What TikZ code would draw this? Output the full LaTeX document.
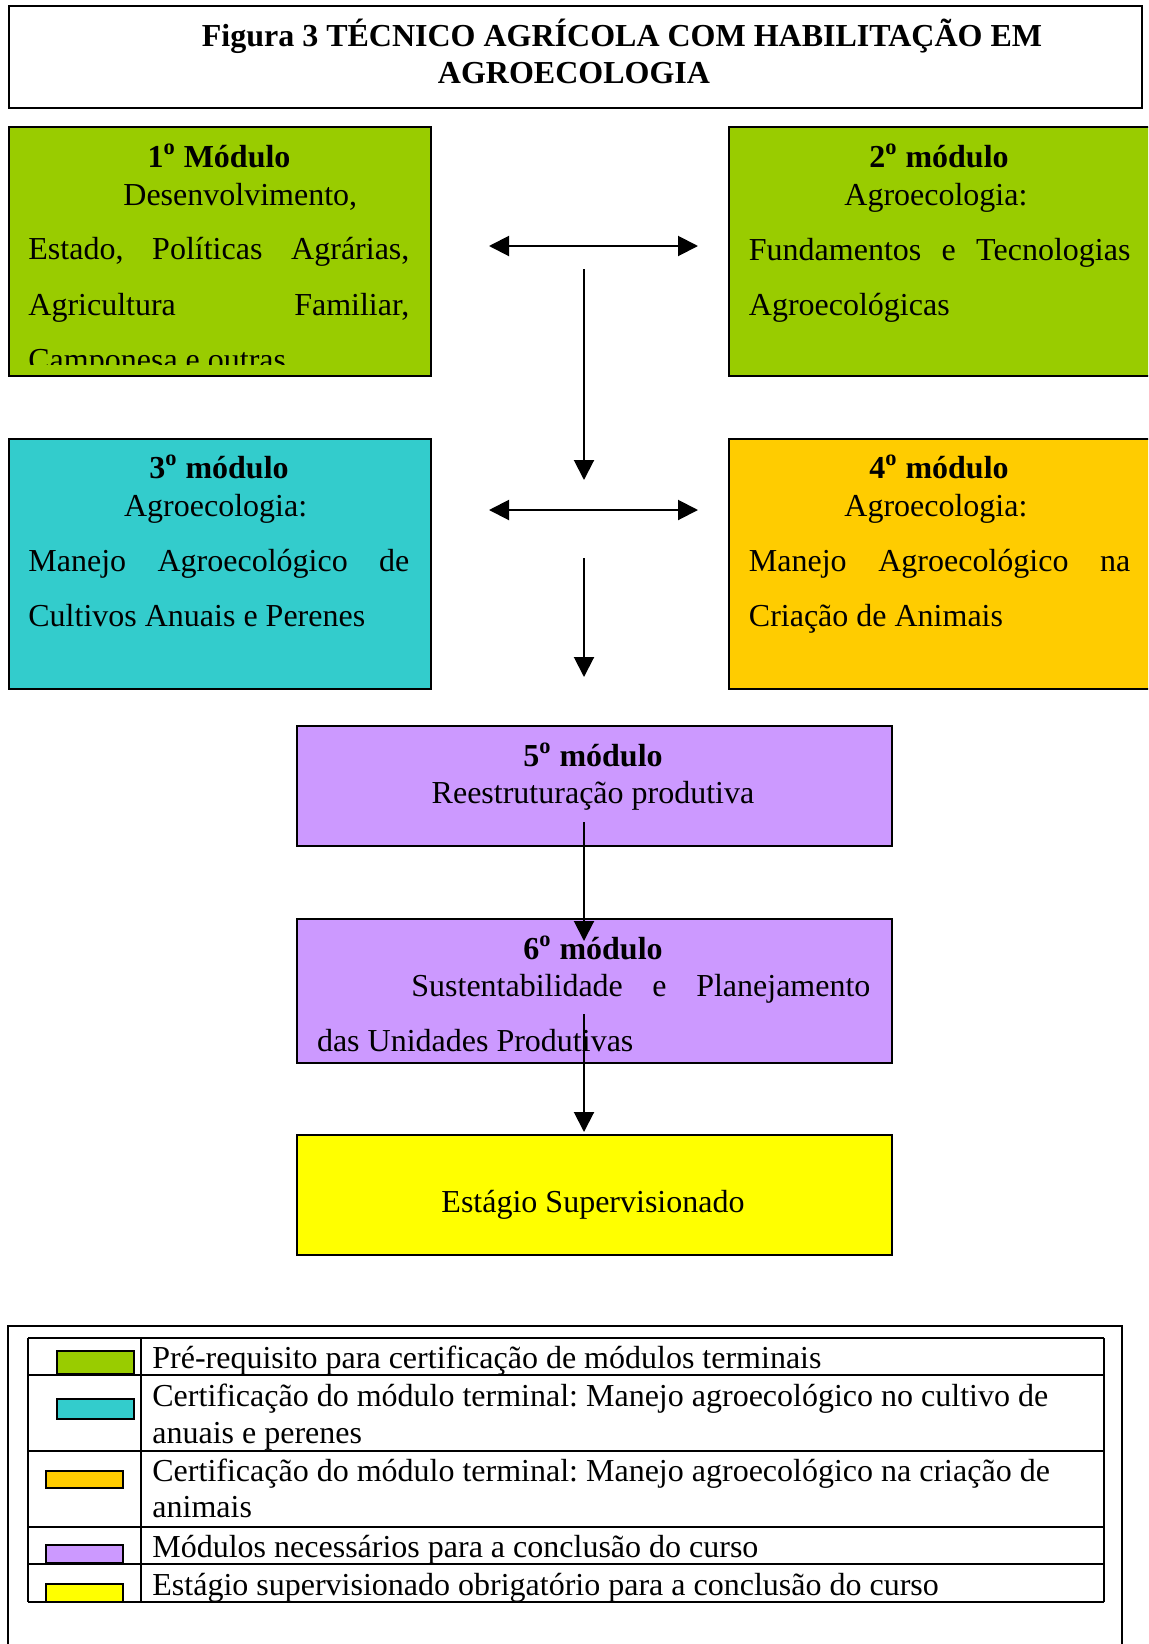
\documentclass[tikz,border=0pt]{standalone}
\usepackage{fontspec}
\setmainfont{Liberation Serif}
\usetikzlibrary{positioning,arrows.meta}
\frenchspacing
\definecolor{modgreen}{HTML}{99CC00}
\definecolor{modcyan}{HTML}{33CCCC}
\definecolor{modorange}{HTML}{FFCC00}
\definecolor{modpurple}{HTML}{CC99FF}
\definecolor{modyellow}{HTML}{FFFF00}
\tikzset{
  modbox/.style={draw, line width=1pt, anchor=north west, inner sep=0pt},
  txt/.style={inner sep=0pt, anchor=base west, font=\fontsize{16}{18.4}\selectfont},
  head/.style={inner sep=0pt, anchor=base, font=\fontsize{16}{18.4}\selectfont\bfseries},
  fwd/.style={-{Triangle[length=10pt, width=10pt]}, line width=1pt},
  twoway/.style={{Triangle[length=10pt, width=10pt]}-{Triangle[length=10pt, width=10pt]}, line width=1pt},
  swatch/.style={draw, line width=0.8pt},
  greenmod/.style={fill=modgreen},
  cyanmod/.style={fill=modcyan},
  orangemod/.style={fill=modorange},
  purplemod/.style={fill=modpurple},
  yellowmod/.style={fill=modyellow},
}

\begin{document}
\begin{tikzpicture}[x=0.5pt, y=-0.5pt]
  \useasboundingbox (0,0) rectangle (1148,1644);
  \clip (0,0) rectangle (1148,1644);

  % title
  \node[modbox, minimum width=566.5pt, minimum height=51pt] (title) at (8,5) {};
  \node[head] (title1) at (622,46) {Figura 3 TÉCNICO AGRÍCOLA COM HABILITAÇÃO EM};
  \node[head] (title2) at (574,83) {AGROECOLOGIA};

  % modules 1 and 2
  \node[modbox, greenmod, minimum width=211pt, minimum height=124.5pt] (mod1) at (8,126) {};
  \node[head] (mod1h) at (219,167) {1\textsuperscript{o} Módulo};
  \node[txt] (mod1a) at (123,205) {Desenvolvimento,};
  \node[txt] (mod1b) at (28,259.5) {\makebox[190.5pt][s]{Estado, Políticas Agrárias,}};
  \node[txt] (mod1c) at (28,315) {\makebox[190.5pt][s]{Agricultura Familiar,}};
  \begin{scope}
    \clip (8,126) rectangle (430,364);
    \node[txt] (mod1d) at (28,370) {Camponesa e outras};
  \end{scope}

  \node[modbox, greenmod, minimum width=215pt, minimum height=124.5pt] (mod2) at (728,126) {};
  \node[head] (mod2h) at (939,167) {2\textsuperscript{o} módulo};
  \node[txt] (mod2a) at (844,205) {Agroecologia:};
  \node[txt] (mod2b) at (748.5,260) {\makebox[190.75pt][s]{Fundamentos e Tecnologias}};
  \node[txt] (mod2c) at (748.5,315) {Agroecológicas};

  % modules 3 and 4
  \node[modbox, cyanmod, minimum width=211pt, minimum height=125pt] (mod3) at (8,438) {};
  \node[head] (mod3h) at (219,478) {3\textsuperscript{o} módulo};
  \node[txt] (mod3a) at (123.7,516) {Agroecologia:};
  \node[txt] (mod3b) at (28,571) {\makebox[190.5pt][s]{Manejo Agroecológico de}};
  \node[txt] (mod3c) at (28,626) {Cultivos Anuais e Perenes};

  \node[modbox, orangemod, minimum width=215pt, minimum height=125pt] (mod4) at (728,438) {};
  \node[head] (mod4h) at (939,478) {4\textsuperscript{o} módulo};
  \node[txt] (mod4a) at (844,516) {Agroecologia:};
  \node[txt] (mod4b) at (748.5,571) {\makebox[190.75pt][s]{Manejo Agroecológico na}};
  \node[txt] (mod4c) at (748.5,626) {Criação de Animais};

  % modules 5, 6 and internship
  \node[modbox, purplemod, minimum width=297.5pt, minimum height=60pt] (mod5) at (296,725) {};
  \node[head] (mod5h) at (593,766) {5\textsuperscript{o} módulo};
  \node[head, font=\fontsize{16}{18.4}\selectfont] (mod5a) at (593,803.5) {Reestruturação produtiva};

  \node[modbox, purplemod, minimum width=297.5pt, minimum height=72pt] (mod6) at (296,918) {};
  \node[head] (mod6h) at (593,959) {6\textsuperscript{o} módulo};
  \node[txt] (mod6a) at (411,996.5) {\makebox[229.5pt][s]{Sustentabilidade e Planejamento}};
  \node[txt] (mod6b) at (316.6,1051) {das Unidades Produtivas};

  \node[modbox, yellowmod, minimum width=297.5pt, minimum height=60pt] (estagio) at (296,1134) {};
  \node[head, font=\fontsize{16}{18.4}\selectfont] (estagioa) at (593,1212.5) {Estágio Supervisionado};

  % arrows
  \coordinate (h1l) at (489,246);
  \coordinate (h1r) at (698,246);
  \coordinate (v1t) at (584,269);
  \coordinate (v1b) at (584,480);
  \coordinate (h2l) at (489,510);
  \coordinate (h2r) at (698,510);
  \coordinate (v2t) at (584,558);
  \coordinate (v2b) at (584,677);
  \coordinate (v3t) at (584,822);
  \coordinate (v3b) at (584,941);
  \coordinate (v4t) at (584,1014);
  \coordinate (v4b) at (584,1132);
  \draw[twoway] (h1l) -- (h1r);
  \draw[fwd] (v1t) -- (v1b);
  \draw[twoway] (h2l) -- (h2r);
  \draw[fwd] (v2t) -- (v2b);
  \draw[fwd] (v3t) -- (v3b);
  \draw[fwd] (v4t) -- (v4b);

  % legend
  \draw[line width=0.8pt] (8,1700) -- (8,1326) -- (1122,1326) -- (1122,1700);
  \foreach \y in {1338,1375,1451,1527,1564,1602}
    \draw[line width=1pt] (28,\y) -- (1104,\y);
  \foreach \x in {28,141,1104}
    \draw[line width=1pt] (\x,1338) -- (\x,1602);
  \node[swatch, greenmod, modbox, minimum width=38.7pt, minimum height=11.7pt] (keygreen) at (55.6,1350) {};
  \node[swatch, cyanmod, modbox, minimum width=38.7pt, minimum height=10pt] (keycyan) at (55.6,1397.7) {};
  \node[swatch, orangemod, modbox, minimum width=38.3pt, minimum height=8.7pt] (keyorange) at (45.4,1470) {};
  \node[swatch, purplemod, modbox, minimum width=38.3pt, minimum height=9pt] (keypurple) at (45.4,1544.3) {};
  \node[swatch, yellowmod, modbox, minimum width=38.3pt, minimum height=9pt] (keyyellow) at (45.4,1582.7) {};
  \node[txt] (key1) at (152,1368) {Pré-requisito para certificação de módulos terminais};
  \node[txt] (key2a) at (152,1406) {Certificação do módulo terminal: Manejo agroecológico no cultivo de};
  \node[txt] (key2b) at (152,1443) {anuais e perenes};
  \node[txt] (key3a) at (152,1481) {Certificação do módulo terminal: Manejo agroecológico na criação de};
  \node[txt] (key3b) at (152,1517) {animais};
  \node[txt] (key4) at (152,1557) {Módulos necessários para a conclusão do curso};
  \node[txt] (key5) at (152,1595) {Estágio supervisionado obrigatório para a conclusão do curso};
\end{tikzpicture}
\end{document}
